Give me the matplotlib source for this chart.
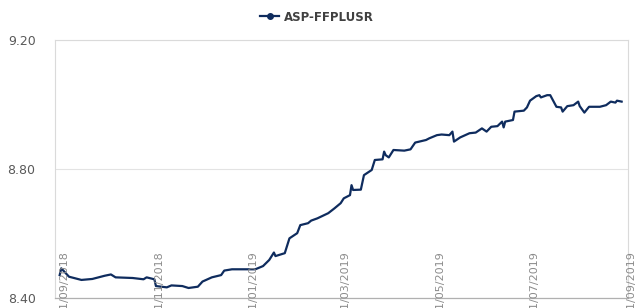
import matplotlib
matplotlib.use("Agg")
import matplotlib.pyplot as plt
import matplotlib.dates as mdates
import matplotlib.transforms as mtransforms
from matplotlib.lines import Line2D
import pandas as pd

series_name = "ASP-FFPLUSR"

dates = [
    "2018-08-29", "2018-08-30", "2018-09-04", "2018-09-12", "2018-09-19", "2018-09-27",
    "2018-10-01", "2018-10-04", "2018-10-15", "2018-10-22", "2018-10-24", "2018-10-29",
    "2018-10-30", "2018-11-06", "2018-11-09", "2018-11-16", "2018-11-20", "2018-11-26",
    "2018-11-29", "2018-12-05", "2018-12-11", "2018-12-13", "2018-12-18", "2018-12-27",
    "2019-01-02", "2019-01-07", "2019-01-11", "2019-01-14", "2019-01-15", "2019-01-21",
    "2019-01-24", "2019-01-29", "2019-01-31", "2019-02-05", "2019-02-07", "2019-02-11",
    "2019-02-18", "2019-02-22", "2019-02-26", "2019-02-28", "2019-03-04", "2019-03-05",
    "2019-03-06", "2019-03-11", "2019-03-13", "2019-03-18", "2019-03-20", "2019-03-25",
    "2019-03-26", "2019-03-27", "2019-03-29", "2019-04-01", "2019-04-08", "2019-04-12",
    "2019-04-15", "2019-04-22", "2019-04-24", "2019-04-29", "2019-05-02", "2019-05-07",
    "2019-05-09", "2019-05-10", "2019-05-14", "2019-05-20", "2019-05-24", "2019-05-28",
    "2019-05-31", "2019-06-03", "2019-06-07", "2019-06-10", "2019-06-11", "2019-06-12",
    "2019-06-17", "2019-06-18", "2019-06-24", "2019-06-26", "2019-06-28", "2019-07-02",
    "2019-07-04", "2019-07-05", "2019-07-09", "2019-07-11", "2019-07-15", "2019-07-18",
    "2019-07-19", "2019-07-22", "2019-07-26", "2019-07-29", "2019-07-30", "2019-08-02",
    "2019-08-05", "2019-08-12", "2019-08-16", "2019-08-19", "2019-08-22", "2019-08-23",
    "2019-08-26",
]
values = [
    8.471, 8.492, 8.466, 8.456, 8.459, 8.469,
    8.473, 8.464, 8.462, 8.458, 8.464, 8.458,
    8.437, 8.433, 8.439, 8.437, 8.431, 8.435,
    8.451, 8.464, 8.471, 8.485, 8.489, 8.489,
    8.489, 8.499, 8.518, 8.541, 8.530, 8.539,
    8.585, 8.601, 8.626, 8.632, 8.640, 8.647,
    8.663, 8.678, 8.694, 8.709, 8.719, 8.750,
    8.735, 8.736, 8.781, 8.797, 8.828, 8.830,
    8.854, 8.843, 8.836, 8.859, 8.857, 8.861,
    8.882, 8.890, 8.895, 8.905, 8.907, 8.905,
    8.916, 8.885, 8.898, 8.911, 8.913, 8.926,
    8.916, 8.931, 8.933, 8.947, 8.929, 8.947,
    8.952, 8.978, 8.981, 8.991, 9.012, 9.026,
    9.029, 9.022, 9.029, 9.029, 8.993, 8.991,
    8.978, 8.995, 8.998, 9.009, 8.995, 8.975,
    8.993, 8.993, 8.998, 9.009, 9.006, 9.012,
    9.009,
]

tick_dates = ["2018-09-01", "2018-11-01", "2019-01-01", "2019-03-01",
              "2019-05-01", "2019-07-01", "2019-09-01"]
tick_labels = ["01/09/2018", "01/11/2018", "01/01/2019", "01/03/2019",
               "01/05/2019", "01/07/2019", "01/09/2019"]
y_ticks = [8.40, 8.80, 9.20]

navy = "#0f2c5e"

fig = plt.figure(figsize=(6.4, 3.08), dpi=100)
ax = fig.add_axes([0.086, 0.0325, 0.895, 0.8375])

x = pd.to_datetime(dates)
ax.plot(x, values, color=navy, lw=1.6, zorder=3)

ax.set_xlim(pd.Timestamp("2018-08-26"), pd.Timestamp("2019-08-30"))
ax.set_ylim(8.40, 9.20)
ax.set_yticks(y_ticks)
ax.set_yticklabels([f"{v:.2f}" for v in y_ticks], color="#595959", fontsize=9)
ax.tick_params(axis="y", length=0, pad=14)
ax.set_xticks([])
ax.grid(axis="y", color="#e3e3e3", lw=0.8)

for s in ["top", "left", "right"]:
    ax.spines[s].set_color("#dadada")
    ax.spines[s].set_linewidth(0.8)
ax.spines["bottom"].set_color("#b0b0b0")
ax.spines["bottom"].set_linewidth(0.9)

# date labels sit inside the plot, rotated, and run off the bottom edge
trans = mtransforms.blended_transform_factory(ax.transData, ax.transAxes)
for d, lab in zip(tick_dates, tick_labels):
    ax.text(mdates.date2num(pd.Timestamp(d)), -0.065, lab, transform=trans,
            rotation=90, ha="center", va="bottom", fontsize=8, color="#8c8c8c")

handle = Line2D([], [], color=navy, lw=1.6, marker="o", markersize=4)
fig.legend([handle], [series_name], loc="upper center", bbox_to_anchor=(0.495, 1.0),
           frameon=False, handlelength=1.6, handletextpad=0.4,
           prop={"weight": "bold", "size": 8.5}, labelcolor="#404040")

fig.savefig("out.png", dpi=100)
